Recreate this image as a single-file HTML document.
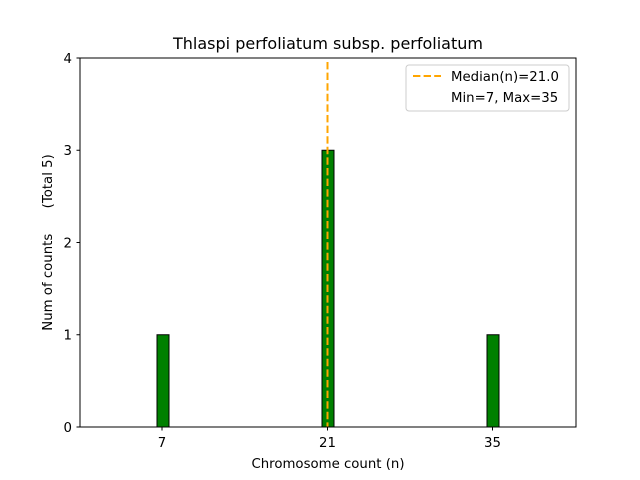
<!DOCTYPE html>
<html><head><style>body{margin:0;background:#fff}svg{display:block}</style></head>
<body>
<svg width="640" height="480" xmlns="http://www.w3.org/2000/svg" font-family="DejaVu Sans, Liberation Sans, sans-serif">
<rect width="640" height="480" fill="#fff"/>
<rect x="157" y="334.75" width="12" height="92.25" fill="#008000" stroke="#000" stroke-width="1"/>
<rect x="322" y="150.25" width="12" height="276.75" fill="#008000" stroke="#000" stroke-width="1"/>
<rect x="487" y="334.75" width="12" height="92.25" fill="#008000" stroke="#000" stroke-width="1"/>
<line x1="115" y1="427" x2="535" y2="427" stroke="#000" stroke-width="1"/>
<line x1="327.5" y1="62" x2="327.5" y2="427" stroke="#FFA500" stroke-width="2" stroke-dasharray="7.4,3.2"/>
<rect x="80" y="58" width="496" height="369" fill="none" stroke="#000" stroke-width="1"/>
<g stroke="#000" stroke-width="1">
<line x1="76.5" y1="427" x2="80" y2="427"/>
<line x1="76.5" y1="334.75" x2="80" y2="334.75"/>
<line x1="76.5" y1="242.5" x2="80" y2="242.5"/>
<line x1="76.5" y1="150.25" x2="80" y2="150.25"/>
<line x1="76.5" y1="58" x2="80" y2="58"/>
<line x1="162" y1="427" x2="162" y2="430.5"/>
<line x1="327.5" y1="427" x2="327.5" y2="430.5"/>
<line x1="492.5" y1="427" x2="492.5" y2="430.5"/>
</g>
<g font-size="13.3" fill="#000" text-anchor="end">
<text x="72" y="432">0</text>
<text x="72" y="339.5">1</text>
<text x="72" y="247.5">2</text>
<text x="72" y="155">3</text>
<text x="72" y="63">4</text>
</g>
<g font-size="13.3" fill="#000" text-anchor="middle">
<text x="162" y="447">7</text>
<text x="327.5" y="447">21</text>
<text x="492.5" y="447">35</text>
<text x="328" y="468">Chromosome count (n)</text>
<text x="328" y="49" font-size="16">Thlaspi perfoliatum subsp. perfoliatum</text>
</g>
<text transform="translate(52,242.5) rotate(-90)" font-size="13.3" text-anchor="middle" xml:space="preserve" style="white-space:pre">Num of counts      (Total 5)</text>
<rect x="406" y="65" width="163" height="46" rx="3" fill="#fff" stroke="#ccc" stroke-width="1"/>
<line x1="413" y1="76" x2="441" y2="76" stroke="#FFA500" stroke-width="2" stroke-dasharray="7.4,3.2"/>
<text x="451" y="81" font-size="13.3">Median(n)=21.0</text>
<text x="451" y="102" font-size="13.3">Min=7, Max=35</text>
</svg>
</body></html>
